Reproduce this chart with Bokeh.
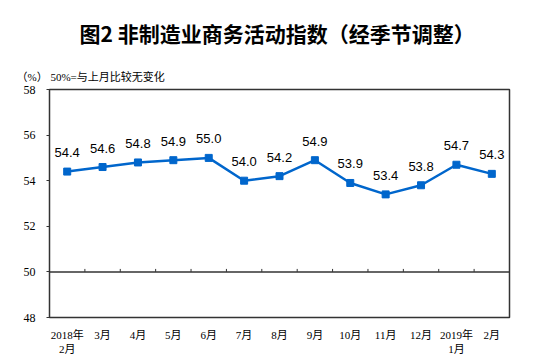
from bokeh.plotting import figure
from bokeh.models import Range1d, FixedTicker, Span, Title
from bokeh.core.properties import value
from bokeh.embed import file_html
from bokeh.resources import INLINE

months = ["2018年\n2月", "3月", "4月", "5月", "6月", "7月", "8月", "9月",
          "10月", "11月", "12月", "2019年\n1月", "2月"]
values = [54.4, 54.6, 54.8, 54.9, 55.0, 54.0, 54.2, 54.9, 53.9, 53.4, 53.8, 54.7, 54.3]
y_ticks = [48, 50, 52, 54, 56, 58]
title_text = "图2  非制造业商务活动指数（经季节调整）"
note_text = "（%）  50%=与上月比较无变化"
baseline = 50

xs = list(range(1, len(months) + 1))
labels = [f"{v:.1f}" for v in values]

p = figure(width=554, height=361, output_backend="svg", toolbar_location=None,
           x_range=Range1d(0.5, len(months) + 0.5), y_range=Range1d(48, 58),
           min_border_left=49, min_border_right=45, min_border_top=89,
           min_border_bottom=44, title=None)
p.background_fill_color = "white"
p.border_fill_color = "white"
p.outline_line_color = "#333333"
p.outline_line_width = 1.5
p.xgrid.visible = False
p.ygrid.visible = False

serif = "'Liberation Serif', 'Noto Sans CJK SC'"

yax = p.yaxis[0]
yax.ticker = FixedTicker(ticks=y_ticks)
yax.axis_line_color = None
yax.major_tick_out = 3
yax.major_tick_in = 0
yax.major_tick_line_color = "#333333"
yax.minor_tick_line_color = None
yax.major_label_standoff = 11
yax.major_label_text_font = serif
yax.major_label_text_font_size = "12px"
yax.major_label_text_color = "black"

xax = p.xaxis[0]
xax.ticker = FixedTicker(ticks=xs)
xax.major_label_overrides = {x: m for x, m in zip(xs, months)}
xax.axis_line_color = None
xax.major_tick_line_color = None
xax.minor_tick_line_color = None
xax.major_label_standoff = 5
xax.major_label_text_font = serif
xax.major_label_text_font_size = "11px"
xax.major_label_text_color = "black"

# 50 reference line with small upward ticks between months
p.add_layout(Span(location=baseline, dimension="width", line_color="#333333", line_width=1.5))
bounds = [x + 0.5 for x in xs[:-1]]
p.segment(x0=bounds, x1=bounds, y0=[baseline] * len(bounds),
          y1=[baseline + 0.13] * len(bounds), line_color="#333333", line_width=1)

p.line(xs, values, line_color="#0066CC", line_width=2.5)
p.scatter(xs, values, marker="square", size=7, fill_color="#0066CC", line_color="#0066CC")
p.text(xs, values, text=labels, y_offset=-19, text_align="center", text_baseline="middle",
       text_font=value("Liberation Sans"), text_font_size="13px", text_color="black")

p.add_layout(Title(text=note_text, align="left", offset=-33, standoff=13,
                   text_font=serif, text_font_size="11px", text_font_style="normal",
                   text_color="black"), "above")
p.add_layout(Title(text=title_text, align="center", offset=-14, standoff=30,
                   text_font="Noto Sans CJK SC", text_font_size="21px",
                   text_font_style="bold", text_color="black"), "above")

open("out.html", "w").write(file_html(p, INLINE))
